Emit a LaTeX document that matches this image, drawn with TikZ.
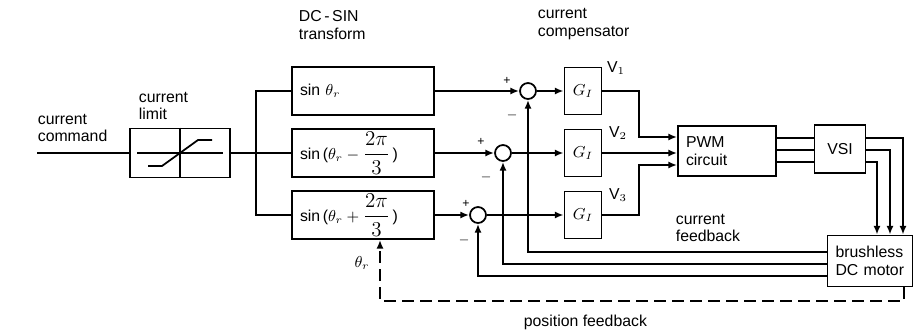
\documentclass[tikz,border=0pt]{standalone}
\usepackage{amsmath}
\usepackage{fontspec}
\setmainfont{Liberation Sans}
\usetikzlibrary{arrows.meta}
\tikzset{
  blk/.style={draw, inner sep=0pt},
  tblk/.style={draw, inner xsep=0.16cm, inner ysep=0pt, text width=#1, align=left},
  sum/.style={draw, circle, minimum size=0.32cm, inner sep=0pt},
  lbl/.style={align=left, anchor=west, inner sep=0pt},
  sgn/.style={font=\scriptsize, inner sep=0pt},
}
\newcommand{\bigfrac}{\text{\large$\dfrac{2\pi}{3}$}}

\begin{document}
\begin{tikzpicture}[x=0.02cm, y=-0.02cm, line width=1pt, >={Latex[length=5pt,width=4pt]}, font=\fontsize{9}{10}\selectfont]
    \useasboundingbox (0,0) rectangle (914,332);
    % blocks
    \node[blk, minimum width=2cm, minimum height=0.98cm] (lim) at (180,153) {};
    \node[tblk=2.52cm, minimum height=0.96cm] (sb1) at (363,91) {sin $\theta_r$};
    \node[tblk=2.52cm, minimum height=0.96cm] (sb2) at (363,153) {sin\,($\theta_r - \bigfrac$\,)};
    \node[tblk=2.52cm, minimum height=0.96cm] (sb3) at (363,215) {sin\,($\theta_r + \bigfrac$\,)};
    \node[sum] (s1) at (528,91) {};
    \node[sum] (s2) at (503,153) {};
    \node[sum] (s3) at (478,215) {};
    \node[blk, minimum width=0.74cm, minimum height=0.94cm] (g1) at (583,91) {$G_I$};
    \node[blk, minimum width=0.74cm, minimum height=0.94cm] (g2) at (583,153) {$G_I$};
    \node[blk, minimum width=0.74cm, minimum height=0.94cm] (g3) at (583,215) {$G_I$};
    \node[tblk=1.64cm, minimum height=1cm] (pwm) at (727,151) {PWM\\circuit};
    \node[blk, minimum width=1.02cm, minimum height=0.96cm] (vsi) at (840,149) {VSI};
    \node[tblk=1.38cm, minimum height=1.02cm] (motor) at (870,261) {brushless\\DC motor};
    % limiter characteristic
    \draw (lim.north) -- (lim.south);
    \draw (137,153) -- (223,153);
    \draw (148,166) -- (162,166) -- (198,140) -- (212,140);
    % labels
    \node[lbl] (lcmd) at (37,128) {current\\command};
    \node[lbl] (llim) at (138,106) {current\\limit};
    \node[lbl] (ldc) at (298,25) {DC\,-\,SIN\\transform};
    \node[lbl] (lcomp) at (537,24) {current\\compensator};
    \node[lbl] (lcfb) at (675,228) {current\\feedback};
    \node[lbl] (lpfb) at (523,322) {position feedback};
    \node (lth) at (362,263) {$\theta_r$};
    \node (v1) at (616,68) {V$_1$};
    \node (v2) at (618,133) {V$_2$};
    \node (v3) at (618,195) {V$_3$};
    \node[sgn] (p1) at (507,81) {+};
    \node[sgn] (m1) at (512,115) {$-$};
    \node[sgn] (p2) at (481,142) {+};
    \node[sgn] (m2) at (486,177) {$-$};
    \node[sgn] (p3) at (466,204) {+};
    \node[sgn] (m3) at (464,240) {$-$};
    % forward path
    \coordinate (cmd) at (37,153);
    \draw (cmd) -- (lim);
    \draw (lim) -- (sb2);
    \draw (sb1.west) -| (256,153) |- (sb3.west);
    \foreach \i in {1,2,3} {
        \draw[->] (sb\i) -- (s\i);
        \draw[->] (s\i) -- (g\i);
    }
    \draw[->] (g1.east) -- ++(37,0) |- (pwm.west |- 0,137);
    \draw[->] (g2.east) -- (pwm.west |- 0,153);
    \draw[->] (g3.east) -- ++(37,0) |- (pwm.west |- 0,165);
    \foreach \y in {138,150,162} \draw (pwm.east |- 0,\y) -- (vsi.west |- 0,\y);
    \draw[->] (vsi.east |- 0,138) -| (motor.north -| 903,0);
    \draw[->] (vsi.east |- 0,150) -| (motor.north -| 890,0);
    \draw[->] (vsi.east |- 0,162) -| (motor.north -| 877,0);
    % feedback
    \draw[->] (motor.west |- 0,252) -| (s1);
    \draw[->] (motor.west |- 0,264) -| (s2);
    \draw[->] (motor.west |- 0,276) -| (s3);
    \draw[->, dash pattern=on 0.24cm off 0.12cm] (motor.south -| 904,0) |- (380,301) -- (sb3.south -| 380,0);
\end{tikzpicture}
\end{document}
